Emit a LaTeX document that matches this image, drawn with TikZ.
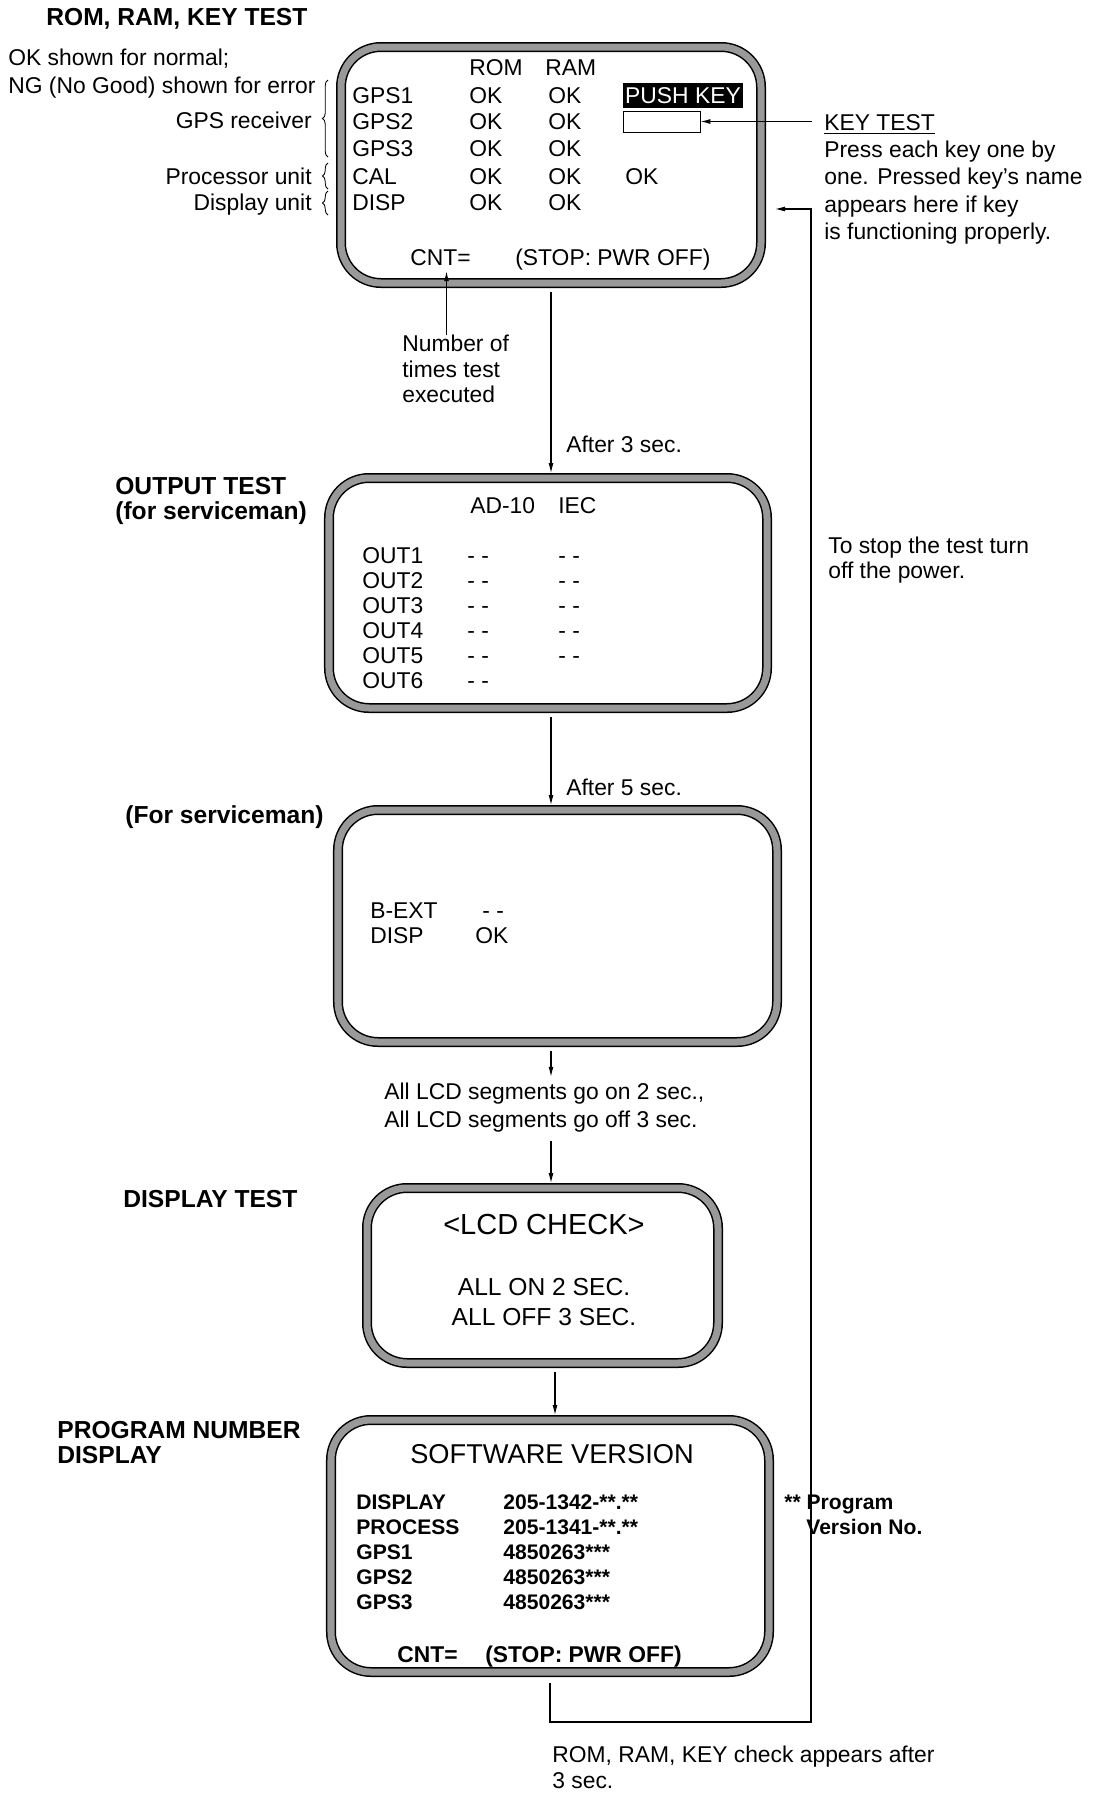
\documentclass[tikz,border=0pt]{standalone}
\usepackage{fontspec}
\setmainfont{Liberation Sans}
\usetikzlibrary{arrows.meta,positioning,calc,decorations.pathreplacing}

\begin{document}
\begin{tikzpicture}[x=0.2mm, y=-0.2mm,
    screen/.style={draw, line width=0.3mm, double=black!40, double distance=1.4mm,
      rounded corners=8mm, outer sep=1mm, inner sep=0pt},
    txt/.style={inner sep=0pt, anchor=mid west, yshift=-0.8mm, font=\fontsize{13}{15}\selectfont},
    hd/.style={txt, font=\bfseries\fontsize{14}{17}\selectfont},
    sw/.style={txt, font=\bfseries\fontsize{12}{14}\selectfont},
    brc/.style={decorate, decoration={brace, amplitude=1.1mm}, line width=0.5pt},
    conn/.style={-{Latex[length=2mm,width=1mm]}, line width=0.6pt}]
  \useasboundingbox (0,0) rectangle (1093,1793);

  % ROM, RAM, KEY test
  \node[hd] (title1) at (46,17) {ROM, RAM, KEY TEST};
  \node[txt] (okline) at (8,57) {OK shown for normal;};
  \node[txt] (ngline) at (8,85) {NG (No Good) shown for error};
  \node[txt, anchor=mid east] (gpsrx) at (312,120) {GPS receiver};
  \node[txt, anchor=mid east] (procu) at (312,176) {Processor unit};
  \node[txt, anchor=mid east] (dispu) at (312,202) {Display unit};
  \draw[brc] (328,157) -- (328,80);
  \draw[brc] (328,189) -- (328,163);
  \draw[brc] (328,215) -- (328,191);

  \node[screen, minimum width=84mm, minimum height=47.2mm] (scr1) at (551,165) {};
  \node[txt] (romhd) at (469,67) {ROM};
  \node[txt] (ramhd) at (545,67) {RAM};
  \foreach \n/\y in {GPS1/95, GPS2/121, GPS3/148, CAL/176, DISP/202} {
    \node[txt] (unit\n) at (352,\y) {\n};
    \node[txt] (rom\n) at (469,\y) {OK};
    \node[txt] (ram\n) at (548,\y) {OK};
  }
  \node[txt] (keyok) at (625,176) {OK};
  \node[fill=black, text=white, inner sep=0pt, minimum width=24mm, minimum height=5mm,
    font=\fontsize{13}{15}\selectfont] (pushkey) at (683,95.5) {PUSH KEY};
  \node[draw, line width=0.5pt, inner sep=0pt, minimum width=15.4mm, minimum height=4.2mm] (keybox) at (661.5,121.5) {};
  \node[txt] (cnt1) at (410,257) {CNT=};
  \node[txt] (stop1) at (515,257) {(STOP: PWR OFF)};

  % key test note
  \node[txt] (keytest) at (824,122) {\underline{KEY TEST}};
  \foreach \t/\y [count=\i] in {Press each key one by/149, one. Pressed key's name/176,
      appears here if key/204, is functioning properly./231}
    \node[txt] (keynote\i) at (824,\y) {\t};
  \draw[conn] ($(keytest.mid west |- keybox.east)+(-12,0)$) -- (keybox.east);

  % counter note
  \node[txt] (num1) at (402,343) {Number of};
  \node[txt] (num2) at (402,369) {times test};
  \node[txt] (num3) at (402,394) {executed};
  \coordinate (cntpt) at ($(cnt1.south)+(6,5)$);
  \draw[conn] (num1.north -| cntpt) -- (cntpt);
  \node[txt] (after3) at (566,444) {After 3 sec.};

  % output test
  \node[hd] (outtest1) at (115,486) {OUTPUT TEST};
  \node[hd] (outtest2) at (115,511) {(for serviceman)};
  \node[screen, minimum width=87.6mm, minimum height=46mm] (scr2) at (548,593) {};
  \node[txt] (adhd) at (470,505) {AD-10};
  \node[txt] (iechd) at (558,505) {IEC};
  \foreach \i in {1,...,6} {
    \node[txt] (out\i) at (362,530+25*\i) {OUT\i};
    \node[txt] (ad\i) at (467,530+25*\i) {- -};
  }
  \foreach \i in {1,...,5}
    \node[txt] (iec\i) at (558,530+25*\i) {- -};
  \draw[conn] ($(scr1.south)+(0,4)$) -- (scr1.south |- scr2.north);
  \node[txt] (after5) at (566,787) {After 5 sec.};

  % for serviceman
  \node[hd] (svc) at (125,815) {(For serviceman)};
  \node[screen, minimum width=87.8mm, minimum height=46.4mm] (scr3) at (557.5,926) {};
  \node[txt] (bext) at (370,910) {B-EXT};
  \node[txt] (bextval) at (482,910) {- -};
  \node[txt] (disp3) at (370,935) {DISP};
  \node[txt] (disp3val) at (475,935) {OK};
  \draw[conn] ($(scr1.south |- scr2.south)+(0,4)$) -- (scr1.south |- scr3.north);

  \node[txt] (lcd1) at (384,1091) {All LCD segments go on 2 sec.,};
  \node[txt] (lcd2) at (384,1119) {All LCD segments go off 3 sec.};
  \draw[conn] ($(scr1.south |- scr3.south)+(0,4)$) -- ($(scr1.south |- lcd1.north)+(0,-6)$);

  % display test
  \node[hd] (disptest) at (123,1199) {DISPLAY TEST};
  \node[screen, minimum width=70.2mm, minimum height=35mm] (scr4) at (542.5,1275.5) {};
  \node[inner sep=0pt, font=\fontsize{16.5}{19}\selectfont] (lcdchk) at (544,1225) {<LCD CHECK>};
  \node[inner sep=0pt, font=\fontsize{14}{17}\selectfont] (allon) at (544,1287) {ALL ON 2 SEC.};
  \node[inner sep=0pt, font=\fontsize{14}{17}\selectfont] (alloff) at (544,1317) {ALL OFF 3 SEC.};
  \draw[conn] ($(scr1.south |- lcd2.south)+(0,8)$) -- (scr1.south |- scr4.north);

  % program number
  \node[hd] (prog1) at (57,1430) {PROGRAM NUMBER};
  \node[hd] (prog2) at (57,1455) {DISPLAY};
  \node[screen, minimum width=87.6mm, minimum height=50.4mm] (scr5) at (550,1546) {};
  \node[inner sep=0pt, font=\fontsize{15.5}{18}\selectfont] (swver) at (552,1454) {SOFTWARE VERSION};
  \foreach \n/\v/\y in {DISPLAY/205-1342-**.**/1501, PROCESS/205-1341-**.**/1526,
      GPS1/4850263***/1551, GPS2/4850263***/1576, GPS3/4850263***/1601} {
    \node[sw] (sw\n) at (356,\y) {\n};
    \node[sw] (ver\n) at (503,\y) {\v};
  }
  \node[sw, font=\bfseries\fontsize{13}{15}\selectfont] (cnt5) at (397,1654) {CNT=};
  \node[sw, font=\bfseries\fontsize{13}{15}\selectfont] (stop5) at (485,1654) {(STOP: PWR OFF)};
  \node[sw] (progver1) at (784,1501) {** Program};
  \node[sw] (progver2) at (806,1526) {Version No.};
  \coordinate (a45) at ($(scr4.south)+(12.5,4)$);
  \draw[conn] (a45) -- (a45 |- scr5.north);

  % back to start
  \node[txt] (stopnote1) at (828,545) {To stop the test turn};
  \node[txt] (stopnote2) at (828,570) {off the power.};
  \coordinate (retcorner) at (811,1722);
  \coordinate (retin) at (775,209);
  \draw[conn] ($(scr5.south)+(0,6)$) |- (retcorner) |- (retin);
  \node[txt] (again1) at (552,1754) {ROM, RAM, KEY check appears after};
  \node[txt] (again2) at (552,1780) {3 sec.};
\end{tikzpicture}
\end{document}
